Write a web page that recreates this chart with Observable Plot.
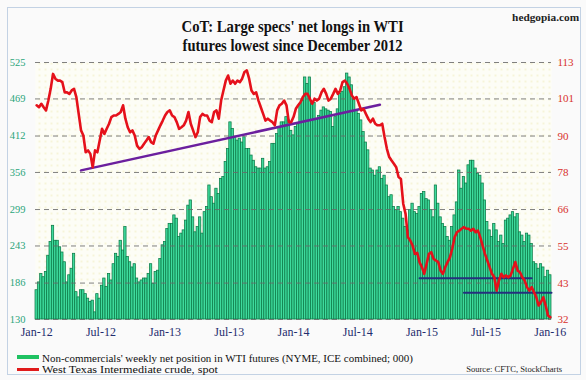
<!DOCTYPE html>
<html><head><meta charset="utf-8">
<script src="https://cdn.jsdelivr.net/npm/d3@7"></script>
<script src="https://cdn.jsdelivr.net/npm/@observablehq/plot@0.6"></script>
<style>
body{margin:0;background:#fff;}
#wrap{position:relative;width:586px;height:380px;font-family:"Liberation Serif","Times New Roman",serif;background:#fafafa;overflow:hidden;}
#border{position:absolute;left:7px;top:7px;width:574px;height:368px;border:1px solid #c3d2e4;box-sizing:border-box;}
.t{position:absolute;white-space:nowrap;}
.t span{display:inline-block;}
#chart{position:absolute;left:0;top:0;}
</style></head><body>
<div id="wrap">
  <div id="chart"></div>
  <div id="border"></div>
  <div class="t" style="left:0;width:586px;top:17px;text-align:center;font-weight:bold;font-size:17px;line-height:20px;color:#111"><span class="fit" data-w="222" data-o="center">CoT: Large specs' net longs in WTI</span></div>
  <div class="t" style="left:0;width:586px;top:36px;text-align:center;font-weight:bold;font-size:17px;line-height:20px;color:#111"><span class="fit" data-w="220" data-o="center">futures lowest since December 2012</span></div>
  <div class="t" style="right:7px;top:10px;text-align:right;font-weight:bold;font-size:11px;line-height:14px;color:#222"><span class="fit" data-w="67" data-o="right">hedgopia.com</span></div>
  <div style="position:absolute;left:17px;top:355px;width:22px;height:4px;background:#1fc262;"></div>
  <div class="t" style="left:42px;top:352px;font-size:11px;line-height:12px;color:#111"><span class="fit" data-w="371" data-o="left">Non-commercials' weekly net position in WTI futures (NYME, ICE combined; 000)</span></div>
  <div style="position:absolute;left:17px;top:367.5px;width:22px;height:3px;background:#e01b1b;"></div>
  <div class="t" style="left:42px;top:363px;font-size:11px;line-height:12px;color:#111"><span class="fit" data-w="176" data-o="left">West Texas Intermediate crude, spot</span></div>
  <div class="t" style="right:24px;top:364px;font-size:8.5px;line-height:10px;color:#222;text-align:right"><span class="fit" data-w="96" data-o="right">Source: CFTC, StockCharts</span></div>
</div>
<script>
// Axis tick labels
const leftTicks = [130, 186, 243, 299, 356, 412, 469, 525];
const rightTicks = [32, 43, 55, 66, 78, 90, 101, 113];
const xTickLabels = ["Jan-12","Jul-12","Jan-13","Jul-13","Jan-14","Jul-14","Jan-15","Jul-15","Jan-16"];
const xTickPos = [0, 27.5, 55, 82.5, 110, 137.5, 165, 192.5, 220];

// Non-commercials' weekly net position (000 contracts)
const netLongs = [
 175,187,200,195,203,228,249,274,251,251,241,233,218,187,198,208,231,172,164,175,175,169,162,157,159,141,169,162,182,193,180,200,190,215,231,226,251,236,272,226,218,210,215,193,187,190,193,193,200,215,185,203,205,223,
 244,249,269,277,277,290,285,257,262,267,282,305,313,287,264,272,287,262,295,303,336,318,308,331,323,346,349,372,392,433,423,410,405,408,402,410,392,392,382,374,364,362,362,377,362,364,372,400,400,415,426,433,433,441,436,
 420,413,426,430,461,466,502,492,502,461,463,438,443,451,456,453,451,449,426,441,453,477,480,487,508,502,490,467,451,446,436,418,402,390,362,359,351,359,364,346,351,336,318,321,303,298,303,295,285,272,267,298,308,295,292,
 303,323,326,315,313,298,287,336,308,287,277,272,257,251,272,290,310,359,331,349,339,367,374,374,362,354,351,339,313,280,267,257,277,267,249,259,246,282,285,290,295,287,292,264,259,249,262,259,246,218,215,208,215,210,195,205,198
];

// WTI crude spot ($)
const wti = [
 99.5,98.9,100,98.9,97.9,101,104.7,109.4,107.9,107.3,107.3,106.8,103.6,103.6,103.1,104.2,104.7,102.1,96.8,91.6,90,84.7,85.3,84.2,80,85.3,84.7,88.4,92.1,90.5,92.1,93.7,95.8,96.3,96.3,96.8,97.4,99.5,95.3,92.6,91,91.6,90,86.8,85.8,86.3,87.4,88.4,89.5,87.9,87.4,90,91.6,93.2,
 94.7,96.3,97.4,97.9,96.3,95.8,94.2,92.1,92.6,93.2,94.7,97.4,93.7,91.6,89.5,91,95.8,96.8,96.3,96.3,94.7,94.2,97.4,97.9,95.3,101,104.2,107.3,108.9,106.3,107.3,106.3,107.3,106.8,107.9,110,110.5,107.9,104.2,103.1,103.6,101,98.9,96.8,94.7,95.3,94.7,94.2,93.2,97.9,99.5,100,101,99.5,94.2,
 94.2,95.8,98.4,99.5,100.5,102.1,103.1,103.1,101.6,100,101.6,101,101.6,103.6,104.7,103.1,101,101.6,103.1,104.7,103.1,104.2,106.8,107.3,106.3,104.7,102.6,101.6,102.1,100,97.9,98.4,96.8,95.3,94.2,95.3,93.7,93.2,93.2,93.7,89.5,85.8,83.2,82.1,81.1,80,76.9,76.3,68.5,65.3,57.9,56.9,55.3,52.7,53,
 50,48.5,46.4,49.5,52.7,53.2,51.1,50.6,50.1,47.4,46.4,48.5,50.1,51.6,54.3,57.9,59.5,60,60.6,61.1,60.6,60.6,60,60.6,59.5,60,57.9,55.3,52.7,50.6,48.5,46.4,45.3,41.1,44.3,46.4,45.3,45.9,45.3,45.9,48,50.1,47.4,46.9,45.3,44.3,42.2,41.1,42.2,40.6,39,36.4,37.5,39,36.4,33.3,32.7
];

// Trend lines (week index, WTI $)
const purpleTrendIdx = [19, 147];
const purpleTrendPx = [79.0, 99.7];
const navyLine1Idx = [164, 212];
const navyLine1Px = [45.0, 45.0];
const navyLine2Idx = [183, 220.5];
const navyLine2Px = [40.4, 40.4];

const N = netLongs.length;
const yMin = leftTicks[0], yMax = leftTicks[leftTicks.length - 1];
const rMin = rightTicks[0], rMax = rightTicks[rightTicks.length - 1];
const toLeft = p => yMin + (p - rMin) * (yMax - yMin) / (rMax - rMin);

const bars = netLongs.map((v, i) => ({i, v}));
const price = wti.map((p, i) => ({i, v: toLeft(p)}));
const mk = (xs, ps) => xs.map((x, k) => ({i: x, v: toLeft(ps[k])}));
const purple = mk(purpleTrendIdx, purpleTrendPx);
const navy1 = mk(navyLine1Idx, navyLine1Px);
const navy2 = mk(navyLine2Idx, navyLine2Px);
const xt = xTickLabels.map((t, k) => ({t, x: xTickPos[k]}));

const chart = Plot.plot({
  width: 586, height: 380,
  marginLeft: 35, marginRight: 35, marginTop: 62, marginBottom: 61,
  style: {fontFamily: '"Liberation Serif", "Times New Roman", serif', background: "transparent", overflow: "visible"},
  x: {type: "linear", domain: [-0.5, N - 0.5], axis: null},
  y: {domain: [yMin, yMax], axis: null},
  marks: [
    Plot.frame({fill: "url(#dots)", stroke: "none"}),
    Plot.rectY(bars, {x1: d => d.i - 0.5, x2: d => d.i + 0.5, y1: yMin, y2: "v", fill: "#3edb9d", stroke: "#0b7a47", strokeWidth: 0.75}),
    Plot.ruleY(leftTicks, {stroke: "#6a6a6a", strokeDasharray: "5,4", strokeWidth: 1, strokeOpacity: 0.85}),
    Plot.line(purple, {x: "i", y: "v", stroke: "#6b1f9e", strokeWidth: 2.5}),
    Plot.line(navy1, {x: "i", y: "v", stroke: "#24307e", strokeWidth: 2}),
    Plot.line(navy2, {x: "i", y: "v", stroke: "#24307e", strokeWidth: 2}),
    Plot.line(price, {x: "i", y: "v", stroke: "#e5111b", strokeWidth: 2.6, strokeLinejoin: "round"}),
    Plot.text(leftTicks, {y: d => d, text: d => String(d), frameAnchor: "left", dx: -10, textAnchor: "end", fill: "#2aa57a", fontSize: 10.5}),
    Plot.text(rightTicks, {y: (d, k) => leftTicks[k], text: d => String(d), frameAnchor: "right", dx: 6, textAnchor: "start", fill: "#d8302a", fontSize: 11}),
    Plot.text(xt, {x: "x", text: "t", frameAnchor: "bottom", dy: 16, fill: "#1f2d6e", fontSize: 12})
  ]
});

// dotted pattern for plot background
const ns = "http://www.w3.org/2000/svg";
const defs = document.createElementNS(ns, "defs");
const pat = document.createElementNS(ns, "pattern");
pat.setAttribute("id", "dots"); pat.setAttribute("width", "6"); pat.setAttribute("height", "6");
pat.setAttribute("patternUnits", "userSpaceOnUse");
const bg = document.createElementNS(ns, "rect");
bg.setAttribute("width", "6"); bg.setAttribute("height", "6"); bg.setAttribute("fill", "#fdfdf6");
const dot = document.createElementNS(ns, "circle");
dot.setAttribute("cx", "3"); dot.setAttribute("cy", "3"); dot.setAttribute("r", "0.7"); dot.setAttribute("fill", "#ece6a6");
pat.appendChild(bg); pat.appendChild(dot); defs.appendChild(pat);
chart.insertBefore(defs, chart.firstChild);
document.getElementById("chart").appendChild(chart);

// fit text widths to the reference
document.querySelectorAll(".fit").forEach(el => {
  const w = el.getBoundingClientRect().width;
  const target = +el.dataset.w;
  el.style.transformOrigin = el.dataset.o + " center";
  el.style.transform = `scaleX(${target / w})`;
});
</script>
</body></html>
